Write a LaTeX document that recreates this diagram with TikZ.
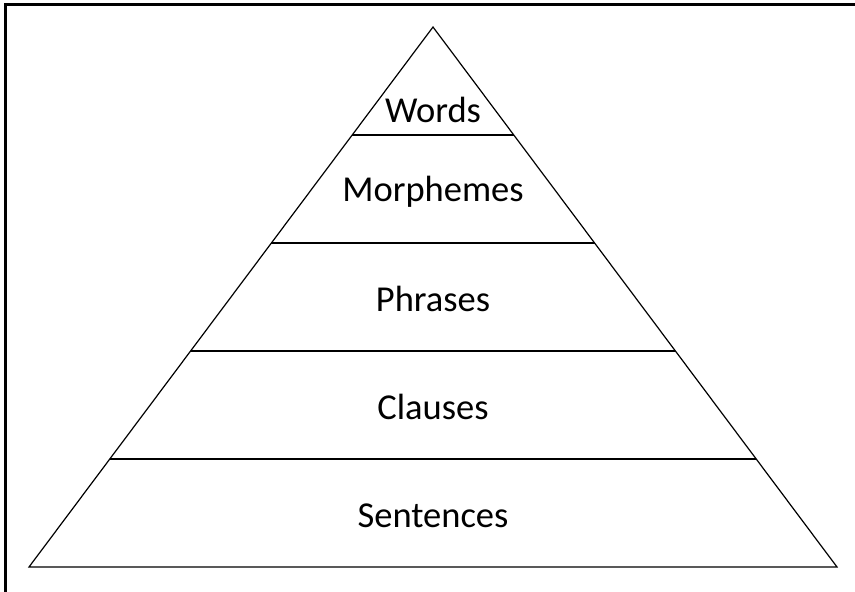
\documentclass[tikz,border=0pt]{standalone}
\usepackage{fontspec}
\setmainfont{Carlito}
\usetikzlibrary{calc}

\begin{document}
\begin{tikzpicture}[x=1pt,y=-1pt,
  edge/.style={line width=1.2pt,line join=miter},
  level/.style={font=\fontsize{36.5}{40}\selectfont,inner sep=0pt}]
\useasboundingbox (0,0) rectangle (855,592);
\draw[line width=2.7pt] (5.3,592) -- (5.3,4.8) -- (855,4.8);
\coordinate (apex) at (433,27);
\coordinate (bl) at (29,567);
\coordinate (br) at (837,567);
\coordinate (base) at (433,567);
\draw[edge] (apex) -- (br) -- (bl) -- cycle;
\foreach \t in {0.2,0.4,0.6,0.8}
  \draw[edge] ($(apex)!\t!(bl)$) -- ($(apex)!\t!(br)$);
\node[level] (words) at ($(apex)!0.154!(base)$) {Words};
\node[level] (morph) at ($(apex)!0.305!(base)$) {Morphemes};
\node[level] (phr) at ($(apex)!0.503!(base)$) {Phrases};
\node[level] (cla) at ($(apex)!0.703!(base)$) {Clauses};
\node[level] (sen) at ($(apex)!0.905!(base)$) {Sentences};
\end{tikzpicture}
\end{document}
